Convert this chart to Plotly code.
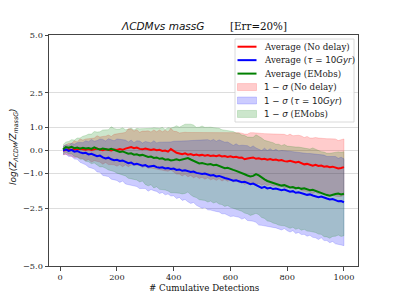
import numpy as np
import plotly.graph_objects as go

# ---------------- data ----------------
detections = list(range(10, 1001, 10))

red_mean = [
    0.00, 0.03, 0.05, 0.02, 0.06, 0.04, 0.08, 0.05, 0.03, 0.06,
    0.02, 0.05, 0.08, 0.04, 0.01, 0.05, 0.03, 0.00, 0.04, 0.02,
    0.06, 0.03, 0.08, 0.12, 0.15, 0.10, 0.13, 0.07, 0.05, 0.08,
    0.04, 0.02, 0.05, 0.01, 0.03, -0.02, 0.00, -0.05, 0.06, -0.04,
    -0.10, -0.13, -0.16, -0.12, -0.18, -0.15, -0.20, -0.17, -0.21, -0.19,
    -0.23, -0.20, -0.24, -0.22, -0.25, -0.21, -0.26, -0.24, -0.28, -0.25,
    -0.29, -0.27, -0.31, -0.30, -0.38, -0.35, -0.33, -0.30, -0.36, -0.34,
    -0.38, -0.36, -0.40, -0.37, -0.41, -0.39, -0.43, -0.41, -0.46, -0.48,
    -0.45, -0.50, -0.52, -0.49, -0.55, -0.60, -0.58, -0.63, -0.66, -0.62,
    -0.67, -0.65, -0.70, -0.68, -0.72, -0.70, -0.74, -0.78, -0.76, -0.72,
]
blue_mean = [
    0.00, 0.05, -0.02, 0.03, -0.05, -0.02, -0.08, -0.12, -0.10, -0.17,
    -0.14, -0.20, -0.25, -0.22, -0.30, -0.34, -0.31, -0.38, -0.42, -0.40,
    -0.45, -0.43, -0.50, -0.55, -0.52, -0.60, -0.57, -0.62, -0.66, -0.63,
    -0.70, -0.68, -0.66, -0.72, -0.75, -0.73, -0.78, -0.76, -0.80, -0.78,
    -0.84, -0.82, -0.88, -0.86, -0.90, -0.93, -0.91, -0.97, -0.99, -1.02,
    -1.00, -1.05, -1.08, -1.06, -1.12, -1.10, -1.16, -1.19, -1.22, -1.28,
    -1.31, -1.29, -1.34, -1.37, -1.35, -1.41, -1.46, -1.43, -1.50, -1.58,
    -1.62, -1.57, -1.64, -1.61, -1.67, -1.65, -1.70, -1.72, -1.69, -1.75,
    -1.78, -1.76, -1.83, -1.81, -1.86, -1.88, -1.92, -1.90, -1.95, -1.98,
    -2.02, -1.99, -2.05, -2.08, -2.12, -2.10, -2.15, -2.20, -2.19, -2.24,
]
green_mean = [
    0.05, 0.15, 0.12, 0.16, 0.10, 0.13, 0.08, 0.12, 0.09, 0.11,
    0.07, 0.14, 0.08, 0.05, 0.09, 0.06, 0.03, 0.07, 0.02, -0.03,
    -0.06, -0.04, -0.10, -0.14, -0.12, -0.18, -0.16, -0.21, -0.19, -0.25,
    -0.28, -0.26, -0.32, -0.30, -0.36, -0.34, -0.40, -0.38, -0.43, -0.41,
    -0.38, -0.42, -0.40, -0.36, -0.33, -0.39, -0.45, -0.52, -0.56, -0.54,
    -0.58, -0.61, -0.59, -0.64, -0.62, -0.68, -0.72, -0.77, -0.75, -0.81,
    -0.84, -0.88, -0.92, -0.98, -1.03, -1.08, -1.12, -1.10, -1.02, -1.08,
    -1.18, -1.25, -1.32, -1.36, -1.40, -1.45, -1.48, -1.52, -1.50, -1.56,
    -1.60, -1.58, -1.63, -1.61, -1.66, -1.64, -1.69, -1.72, -1.70, -1.75,
    -1.80, -1.84, -1.90, -1.93, -1.96, -1.91, -1.88, -1.86, -1.90, -1.87,
]
red_sigma = [
    0.18, 0.20, 0.26, 0.29, 0.36, 0.33, 0.42, 0.40, 0.47, 0.45,
    0.52, 0.49, 0.56, 0.54, 0.60, 0.57, 0.64, 0.61, 0.66, 0.70,
    0.67, 0.73, 0.70, 0.82, 0.78, 0.74, 0.77, 0.72, 0.79, 0.76,
    0.81, 0.78, 0.84, 0.80, 0.86, 0.83, 0.88, 0.85, 0.90, 0.87,
    0.92, 0.89, 0.94, 0.91, 0.96, 0.93, 0.98, 0.95, 1.00, 0.97,
    1.01, 0.98, 1.03, 1.00, 1.04, 1.01, 1.06, 1.02, 1.05, 1.03,
    1.07, 1.04, 1.08, 1.05, 1.09, 1.06, 1.10, 1.07, 1.11, 1.08,
    1.12, 1.09, 1.13, 1.10, 1.14, 1.11, 1.15, 1.12, 1.16, 1.13,
    1.16, 1.14, 1.17, 1.15, 1.18, 1.16, 1.19, 1.17, 1.20, 1.18,
    1.21, 1.17, 1.22, 1.19, 1.23, 1.20, 1.24, 1.21, 1.23, 1.22,
]
blue_sigma = [
    0.18, 0.20, 0.24, 0.28, 0.32, 0.36, 0.43, 0.46, 0.52, 0.55,
    0.62, 0.60, 0.68, 0.72, 0.78, 0.75, 0.82, 0.86, 0.84, 0.90,
    0.93, 0.89, 0.95, 0.92, 0.97, 0.94, 0.99, 1.03, 0.98, 1.02,
    1.06, 1.01, 1.08, 1.05, 1.11, 1.09, 1.14, 1.12, 1.17, 1.18,
    1.24, 1.21, 1.28, 1.26, 1.32, 1.36, 1.34, 1.40, 1.44, 1.48,
    1.46, 1.52, 1.50, 1.54, 1.52, 1.56, 1.58, 1.55, 1.59, 1.58,
    1.53, 1.58, 1.55, 1.60, 1.57, 1.62, 1.59, 1.63, 1.61, 1.65,
    1.62, 1.67, 1.64, 1.69, 1.66, 1.70, 1.68, 1.72, 1.69, 1.72,
    1.75, 1.71, 1.76, 1.74, 1.78, 1.75, 1.79, 1.77, 1.81, 1.80,
    1.83, 1.79, 1.85, 1.82, 1.87, 1.84, 1.89, 1.86, 1.90, 1.88,
]
green_sigma = [
    0.20, 0.22, 0.27, 0.31, 0.35, 0.41, 0.46, 0.50, 0.56, 0.60,
    0.64, 0.68, 0.72, 0.76, 0.80, 0.83, 0.87, 0.96, 0.93, 0.95,
    0.99, 1.02, 1.00, 1.06, 1.09, 1.07, 1.12, 1.15, 1.13, 1.22,
    1.25, 1.22, 1.30, 1.27, 1.32, 1.34, 1.31, 1.37, 1.40, 1.42,
    1.45, 1.43, 1.48, 1.50, 1.47, 1.53, 1.55, 1.52, 1.57, 1.60,
    1.58, 1.62, 1.60, 1.63, 1.61, 1.64, 1.62, 1.65, 1.63, 1.65,
    1.66, 1.64, 1.67, 1.65, 1.68, 1.66, 1.69, 1.67, 1.70, 1.70,
    1.72, 1.69, 1.73, 1.71, 1.74, 1.72, 1.75, 1.73, 1.76, 1.75,
    1.77, 1.74, 1.78, 1.76, 1.79, 1.77, 1.80, 1.78, 1.81, 1.80,
    1.82, 1.79, 1.83, 1.81, 1.84, 1.81, 1.83, 1.80, 1.82, 1.82,
]

x_ticks = [0, 200, 400, 600, 800, 1000]
y_ticks = [5.0, 2.5, 1.0, 0.0, -1.0, -2.5, -5.0]
y_tick_labels = ["5.0", "2.5", "1.0", "0.0", "\u22121.0", "\u22122.5", "\u22125.0"]

MATH = 'font-family:DejaVu Sans'
line_names = [
    "Average (No delay)",
    f"Average (<span style='{MATH}'><i>\u03c4</i> = 10<i>Gyr</i></span>)",
    "Average (EMobs)",
]
band_names = [
    f"<span style='{MATH}'>1 \u2212 <i>\u03c3</i></span> (No delay)",
    f"<span style='{MATH}'>1 \u2212 <i>\u03c3</i> (<i>\u03c4</i> = 10<i>Gyr</i>)</span>",
    f"<span style='{MATH}'>1 \u2212 <i>\u03c3</i></span> (EMobs)",
]
line_colors = ["#ff0000", "#0000ff", "#008000"]
band_colors = ["rgba(255,0,0,0.2)", "rgba(0,0,255,0.2)", "rgba(0,128,0,0.2)"]

means = [red_mean, blue_mean, green_mean]
sigmas = [red_sigma, blue_sigma, green_sigma]

# ---------------- figure ----------------
SERIF = "DejaVu Serif"
fig = go.Figure()

x = np.array(detections, dtype=float)
for m, s, fc in zip(means, sigmas, band_colors):
    m = np.array(m)
    s = np.array(s)
    up = m + s
    lo = m - s
    fig.add_trace(go.Scatter(
        x=np.concatenate([x, x[::-1]]),
        y=np.concatenate([up, lo[::-1]]),
        fill="toself", fillcolor=fc, mode="lines",
        line=dict(color=fc, width=0.8), showlegend=False, hoverinfo="skip"))

for m, c in zip(means, line_colors):
    fig.add_trace(go.Scatter(x=x, y=m, mode="lines",
                             line=dict(color=c, width=2), showlegend=False))

# The page body has an 8px margin, so the figure is drawn 8px in from the
# window's top-left corner. Geometry below is given in window pixels.
OFF = 8
WIN_W, WIN_H = 399, 299
W, H = WIN_W - OFF, WIN_H - OFF
plot_l, plot_r, plot_t, plot_b = 49, 358, 35, 266   # window pixels
L = plot_l - OFF
T = plot_t - OFF
R = W - (plot_r - OFF)
B = H - (plot_b - OFF)
pw, ph = plot_r - plot_l, plot_b - plot_t


def px_x(p):
    return (p - plot_l) / pw


def px_y(p):
    return (plot_b - p) / ph


axis_common = dict(showline=True, mirror=True, linecolor="#444444", linewidth=1,
                   ticks="outside", ticklen=3.5, tickwidth=1, tickcolor="#444444",
                   zeroline=False,
                   tickfont=dict(family=SERIF, size=8.2, color="#222222"))

fig.update_xaxes(range=[-39.5, 1049.5], tickvals=x_ticks, showgrid=False, **axis_common)
fig.update_yaxes(range=[-5, 5], tickvals=y_ticks, ticktext=y_tick_labels,
                 showgrid=True, gridcolor="#dddddd", gridwidth=1, **axis_common)

shapes = []
annotations = []

# legend (manual, to match compact matplotlib spacing)
box_l, box_r, box_t, box_b = 235, 354, 39, 122
shapes.append(dict(type="rect", xref="paper", yref="paper",
                   x0=px_x(box_l), x1=px_x(box_r), y0=px_y(box_b), y1=px_y(box_t),
                   line=dict(color="#d0d0d0", width=0.8),
                   fillcolor="rgba(255,255,255,0.9)", layer="above"))
row0, row_step = 46.7, 13.45
sw_l, sw_r, txt_l = 237.5, 256.5, 261.5
entries = [("line", n, c) for n, c in zip(line_names, line_colors)] + \
          [("band", n, c) for n, c in zip(band_names, band_colors)]
for i, (kind, name, col) in enumerate(entries):
    yc = row0 + i * row_step
    if kind == "line":
        shapes.append(dict(type="line", xref="paper", yref="paper",
                           x0=px_x(sw_l), x1=px_x(sw_r), y0=px_y(yc), y1=px_y(yc),
                           line=dict(color=col, width=2), layer="above"))
    else:
        shapes.append(dict(type="rect", xref="paper", yref="paper",
                           x0=px_x(sw_l), x1=px_x(sw_r), y0=px_y(yc + 3.5), y1=px_y(yc - 3.5),
                           line=dict(color=col, width=0.8), fillcolor=col, layer="above"))
    annotations.append(dict(xref="paper", yref="paper", x=px_x(txt_l), y=px_y(yc),
                            xanchor="left", yanchor="middle", showarrow=False,
                            text=name, font=dict(family=SERIF, size=8.7, color="#222222")))

# title
annotations.append(dict(xref="paper", yref="paper", x=px_x(162), y=px_y(26),
                        xanchor="center", yanchor="middle", showarrow=False,
                        text="<i>\u039bCDMvs massG</i>",
                        font=dict(family="DejaVu Sans", size=10.5, color="#111111")))
annotations.append(dict(xref="paper", yref="paper", x=px_x(258), y=px_y(26),
                        xanchor="center", yanchor="middle", showarrow=False,
                        text="[Err=20%]",
                        font=dict(family=SERIF, size=10.3, color="#111111")))
# axis labels
annotations.append(dict(xref="paper", yref="paper", x=px_x(204.5), y=px_y(287.5),
                        xanchor="center", yanchor="middle", showarrow=False,
                        text="# Cumulative Detections",
                        font=dict(family=SERIF, size=8.7, color="#111111")))
annotations.append(dict(xref="paper", yref="paper", x=px_x(13), y=px_y(147),
                        xanchor="center", yanchor="middle", showarrow=False, textangle=-90,
                        text="<i>log(Z<sub>\u039bCDM</sub>/Z<sub>massG</sub>)</i>",
                        font=dict(family="DejaVu Sans", size=9, color="#111111")))

fig.update_layout(width=W, height=H, margin=dict(l=L, r=R, t=T, b=B),
                  paper_bgcolor="white", plot_bgcolor="white",
                  shapes=shapes, annotations=annotations, showlegend=False)

fig.write_html("out.html")
